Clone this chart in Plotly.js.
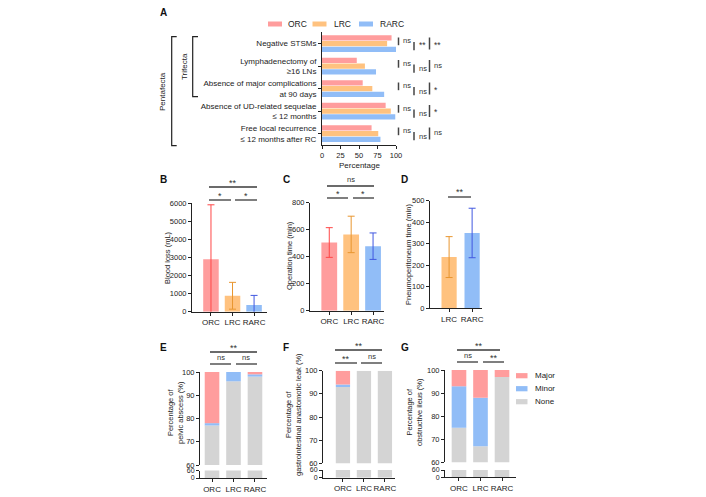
<!DOCTYPE html>
<html>
<head>
<meta charset="utf-8">
<script src="https://cdn.plot.ly/plotly-3.0.1.min.js"></script>
<style>
  html, body { margin: 0; padding: 0; background: #fff; }
  #chart { width: 706px; height: 497px; }
</style>
</head>
<body>
<div id="chart"></div>
<script>
// ---- data ----
const groups = ['ORC', 'LRC', 'RARC'];
const groupsD = ['LRC', 'RARC'];

// A: trifecta / pentafecta outcomes (%)
const outcomes = [
    'Negative STSMs',
    'Lymphadenectomy of<br>≥16 LNs',
    'Absence of major complications<br>at 90 days',
    'Absence of UD-related sequelae<br>≤ 12 months',
    'Free local recurrence<br>≤ 12 months after RC'
];
const pctORC = [94, 47, 55, 86, 67];
const pctLRC = [88, 58, 68, 93, 76];
const pctRARC = [100, 73, 84, 99, 79];
const sigOrcLrc = ['ns', 'ns', 'ns', 'ns', 'ns'];
const sigLrcRarc = ['**', 'ns', 'ns', 'ns', 'ns'];
const sigOrcRarc = ['**', 'ns', '*', '*', 'ns'];

// B: blood loss (mL), mean and SD
const bloodMean = [2900, 880, 370];
const bloodSD = [3000, 740, 530];
// C: operation time (min)
const opMean = [505, 565, 478];
const opSD = [110, 135, 98];
// D: pneumoperitoneum time (min)
const pneuMean = [238, 350];
const pneuSD = [95, 115];

// E-G: complication grades (%)
const gradeNames = ['Major', 'Minor', 'None'];
const abscessNone = [77, 96, 98];
const abscessMinor = [1, 4, 1];
const abscessMajor = [22, 0, 1];
const leakNone = [93, 100, 100];
const leakMinor = [1, 0, 0];
const leakMajor = [6, 0, 0];
const ileusNone = [75, 67, 97];
const ileusMinor = [18, 21, 0];
const ileusMajor = [7, 12, 3];

// ---- styling ----
const fill = { ORC: '#FF9D9D', LRC: '#FFC27F', RARC: '#91BDF7' };
const errColor = { ORC: '#FF4747', LRC: '#E8962F', RARC: '#4058E0' };
const gradeColor = { Major: '#FF9D9D', Minor: '#91BDF7', None: '#D4D4D4' };
const ink = '#222';
const FONT = 'Liberation Sans, Arial, sans-serif';

const W = 706, H = 497;
const px = v => v / W;
const py = v => 1 - v / H;
const xdom = (a, b) => [px(a), px(b)];
const ydom = (top, bottom) => [py(bottom), py(top)];

function axis(extra) {
    return Object.assign({
        showgrid: false, zeroline: false, showline: true,
        linecolor: ink, linewidth: 1,
        ticks: 'outside', ticklen: 3, tickwidth: 1, tickcolor: ink,
        tickfont: { size: 7.5, color: ink, family: FONT },
        tickangle: 0,
        automargin: false, fixedrange: true
    }, extra);
}

const traces = [];

// A: horizontal grouped bars (offsets by hand, barmode is overlay for the whole figure)
const aSeries = [['ORC', pctORC, -0.37], ['LRC', pctLRC, -0.115], ['RARC', pctRARC, 0.14]];
aSeries.forEach(([name, vals, off]) => {
    traces.push({
        type: 'bar', orientation: 'h', name: name,
        x: vals, y: outcomes, xaxis: 'x', yaxis: 'y',
        offset: off, width: 0.23,
        marker: { color: fill[name] },
        showlegend: false, hoverinfo: 'x+y'
    });
});

// B-D: mean +/- SD bars, one trace per group so each error bar gets its own colour
function meanBars(cats, means, sds, xa, ya, w) {
    cats.forEach((g, i) => {
        traces.push({
            type: 'bar', x: [g], y: [means[i]], xaxis: xa, yaxis: ya,
            width: w, marker: { color: fill[g] },
            error_y: { type: 'data', array: [sds[i]], color: errColor[g], thickness: 1, width: 3.5 },
            showlegend: false
        });
    });
}
meanBars(groups, bloodMean, bloodSD, 'x2', 'y2', 0.72);
meanBars(groups, opMean, opSD, 'x3', 'y3', 0.72);
meanBars(groupsD, pneuMean, pneuSD, 'x4', 'y4', 0.66);

// E-G: stacked grades on a broken axis (upper 60-100, lower 0-60)
function gradeBars(none, minor, major, xa, yUp, yLow) {
    const minorBase = none;
    const majorBase = none.map((v, i) => v + minor[i]);
    traces.push({ type: 'bar', x: groups, y: none, base: 0, xaxis: xa, yaxis: yUp, width: 0.68,
        marker: { color: gradeColor.None }, showlegend: false, name: 'None' });
    traces.push({ type: 'bar', x: groups, y: minor, base: minorBase, xaxis: xa, yaxis: yUp, width: 0.68,
        marker: { color: gradeColor.Minor }, showlegend: false, name: 'Minor' });
    traces.push({ type: 'bar', x: groups, y: major, base: majorBase, xaxis: xa, yaxis: yUp, width: 0.68,
        marker: { color: gradeColor.Major }, showlegend: false, name: 'Major' });
    traces.push({ type: 'bar', x: groups, y: none, base: 0, xaxis: xa, yaxis: yLow, width: 0.68,
        marker: { color: gradeColor.None }, showlegend: false, name: 'None' });
}
gradeBars(abscessNone, abscessMinor, abscessMajor, 'x5', 'y5', 'y6');
gradeBars(leakNone, leakMinor, leakMajor, 'x6', 'y7', 'y8');
gradeBars(ileusNone, ileusMinor, ileusMajor, 'x7', 'y9', 'y10');

// ---- axes ----
const catX = (range) => ({ type: 'category', categoryorder: 'array', categoryarray: groups, range: range,
    tickfont: { size: 8, color: ink, family: FONT } });
const upperTicks = { range: [60, 100], tickvals: [60, 70, 80, 90, 100] };
const lowerTicks = { range: [0, 60], tickvals: [0, 60], tickfont: { size: 7, color: ink, family: FONT } };

const layout = {
    width: W, height: H,
    margin: { l: 0, r: 0, t: 0, b: 0 },
    paper_bgcolor: '#fff', plot_bgcolor: 'rgba(0,0,0,0)',
    barmode: 'overlay',
    font: { family: FONT, size: 8, color: ink },
    showlegend: false,

    xaxis: axis({ domain: xdom(322, 396), range: [0, 100], tickvals: [0, 25, 50, 75, 100], anchor: 'y' }),
    yaxis: axis({ domain: ydom(32.3, 144.8), type: 'category', range: [4.5, -0.5], anchor: 'x',
        tickfont: { size: 8, color: ink, family: FONT } }),

    xaxis2: axis(Object.assign(catX([-0.88, 2.6]), { domain: xdom(192, 267), anchor: 'y2' })),
    yaxis2: axis({ domain: ydom(203, 311.7), range: [0, 6000], dtick: 1000, anchor: 'x2' }),

    xaxis3: axis(Object.assign(catX([-0.88, 2.5]), { domain: xdom(310, 384), anchor: 'y3' })),
    yaxis3: axis({ domain: ydom(202.7, 310.7), range: [0, 800], dtick: 200, anchor: 'x3' }),

    xaxis4: axis({ domain: xdom(430, 482), type: 'category', categoryorder: 'array', categoryarray: groupsD,
        range: [-0.83, 1.43], anchor: 'y4', tickfont: { size: 8, color: ink, family: FONT } }),
    yaxis4: axis({ domain: ydom(200.7, 308.3), range: [0, 500], dtick: 100, anchor: 'x4' }),

    xaxis5: axis(Object.assign(catX([-0.56, 2.56]), { domain: xdom(200, 267), anchor: 'y6' })),
    yaxis5: axis(Object.assign({ domain: ydom(372, 465), anchor: 'x5' }, upperTicks)),
    yaxis6: axis(Object.assign({ domain: ydom(470.5, 478), anchor: 'x5' }, lowerTicks)),

    xaxis6: axis(Object.assign(catX([-0.95, 2.48]), { domain: xdom(323, 395), anchor: 'y8' })),
    yaxis7: axis(Object.assign({ domain: ydom(370.7, 463.3), anchor: 'x6' }, upperTicks)),
    yaxis8: axis(Object.assign({ domain: ydom(470, 477.7), anchor: 'x6' }, lowerTicks)),

    xaxis7: axis(Object.assign(catX([-0.65, 2.65]), { domain: xdom(445, 516), anchor: 'y10' })),
    yaxis9: axis(Object.assign({ domain: ydom(370, 462.3), anchor: 'x7' }, upperTicks)),
    yaxis10: axis(Object.assign({ domain: ydom(470, 477.3), anchor: 'x7' }, lowerTicks)),

    shapes: [],
    annotations: []
};

const shapes = layout.shapes;
const notes = layout.annotations;

function text(x, y, str, opts) {
    notes.push(Object.assign({
        xref: 'paper', yref: 'paper', x: px(x), y: py(y), text: str,
        showarrow: false, xanchor: 'center', yanchor: 'middle',
        font: { size: 8, color: ink, family: FONT }
    }, opts || {}));
}
function line(x0, y0, x1, y1, w, c) {
    shapes.push({ type: 'line', xref: 'paper', yref: 'paper',
        x0: px(x0), y0: py(y0), x1: px(x1), y1: py(y1),
        line: { color: c || '#333', width: w || 1.2 } });
}
// horizontal significance bar with its label above
function sig(x0, x1, y, label) {
    line(x0, y, x1, y, 1.3, '#3a3a3a');
    const isStar = label.indexOf('*') >= 0;
    text((x0 + x1) / 2, isStar ? y - 4.5 : y - 7, label,
        { font: { size: isStar ? 9 : 7.5, color: '#333', family: FONT } });
}

// panel letters
[['A', 163, 12], ['B', 163, 180], ['C', 286, 180], ['D', 404, 180],
 ['E', 163, 347], ['F', 286, 347], ['G', 405, 347]].forEach(([l, x, y]) =>
    text(x, y, '<b>' + l + '</b>', { font: { size: 10, color: '#111', family: FONT } }));

// A legend
[['ORC', 268, 286], ['LRC', 312.5, 331.5], ['RARC', 359, 378]].forEach(([g, sx, tx]) => {
    shapes.push({ type: 'rect', xref: 'paper', yref: 'paper', x0: px(sx), x1: px(sx + 14),
        y0: py(26.5), y1: py(21.5), fillcolor: fill[g], line: { width: 0 } });
    text(tx, 24, g, { xanchor: 'left', font: { size: 8.5, color: ink, family: FONT } });
});

// A: axis title, trifecta / pentafecta brackets
text(359, 165, 'Percentage', { font: { size: 8, color: ink, family: FONT } });
shapes.push({ type: 'path', xref: 'paper', yref: 'paper',
    path: `M${px(176.7)},${py(36.7)} L${px(171.7)},${py(36.7)} L${px(171.7)},${py(145.7)} L${px(176.7)},${py(145.7)}`,
    line: { color: '#222', width: 1.2 } });
shapes.push({ type: 'path', xref: 'paper', yref: 'paper',
    path: `M${px(198)},${py(36.7)} L${px(192.7)},${py(36.7)} L${px(192.7)},${py(96.7)} L${px(198)},${py(96.7)}`,
    line: { color: '#222', width: 1.2 } });
text(184.3, 66.7, 'Trifecta', { textangle: -90 });
text(162.3, 91.7, 'Pentafecta', { textangle: -90 });

// A: vertical significance marks beside each outcome
outcomes.forEach((o, i) => {
    const c = 43.5 + 22.5 * i;
    line(398.5, c - 6, 398.5, c + 1.7, 1.5, '#444');
    text(401, c - 2.6, sigOrcLrc[i], { xanchor: 'left', font: { size: 7.5, color: '#333', family: FONT } });
    line(414, c - 1.6, 414, c + 6.7, 1.5, '#444');
    text(416.5, sigLrcRarc[i] === 'ns' ? c + 2.7 : c + 2, sigLrcRarc[i],
        { xanchor: 'left', font: { size: sigLrcRarc[i] === 'ns' ? 7.5 : 8.5, color: '#333', family: FONT } });
    line(429.5, c - 6, 429.5, c + 6, 1.5, '#444');
    text(432, sigOrcRarc[i] === 'ns' ? c - 0.7 : c + 1.5, sigOrcRarc[i],
        { xanchor: 'left', font: { size: sigOrcRarc[i] === 'ns' ? 7.5 : 8.5, color: '#333', family: FONT } });
});

// B-D significance
sig(209, 257, 187, '**');
sig(209, 231, 200, '*');
sig(235, 257, 200, '*');
sig(327, 374, 186, 'ns');
sig(327, 348, 198, '*');
sig(353, 374, 198, '*');
sig(448, 471, 197, '**');

// E-G significance
sig(210, 257, 352, '**');
sig(210, 231, 364, 'ns');
sig(236, 257, 364, 'ns');
sig(335, 382, 350, '**');
sig(335, 357, 363, '**');
sig(361, 382, 363, 'ns');
sig(457, 500, 350, '**');
sig(457, 478, 362, 'ns');
sig(483, 504, 362, '**');

// y-axis titles
text(167, 258, 'Blood loss (mL)', { textangle: -90, font: { size: 7.5, color: ink, family: FONT } });
text(289, 256, 'Operation time (min)', { textangle: -90, font: { size: 7.5, color: ink, family: FONT } });
text(408, 255, 'Pneumoperitoneum time (min)', { textangle: -90, font: { size: 7.5, color: ink, family: FONT } });
text(175, 413, 'Percentage of<br>pelvic abscess (%)', { textangle: -90, font: { size: 7.5, color: ink, family: FONT } });
text(293, 415, 'Percentage of<br>gastrointestinal anastomotic leak (%)', { textangle: -90, font: { size: 7.5, color: ink, family: FONT } });
text(414, 412, 'Percentage of<br>obstructive ileus (%)', { textangle: -90, font: { size: 7.5, color: ink, family: FONT } });

// G legend
gradeNames.forEach((g, i) => {
    const cy = 375.7 + 13 * i;
    shapes.push({ type: 'rect', xref: 'paper', yref: 'paper', x0: px(516), x1: px(527.5),
        y0: py(cy + 2.6), y1: py(cy - 2.6), fillcolor: gradeColor[g], line: { width: 0 } });
    text(533, cy, g, { xanchor: 'left', font: { size: 8, color: ink, family: FONT } });
});

Plotly.newPlot('chart', traces, layout, { staticPlot: true, displayModeBar: false });
</script>
</body>
</html>
